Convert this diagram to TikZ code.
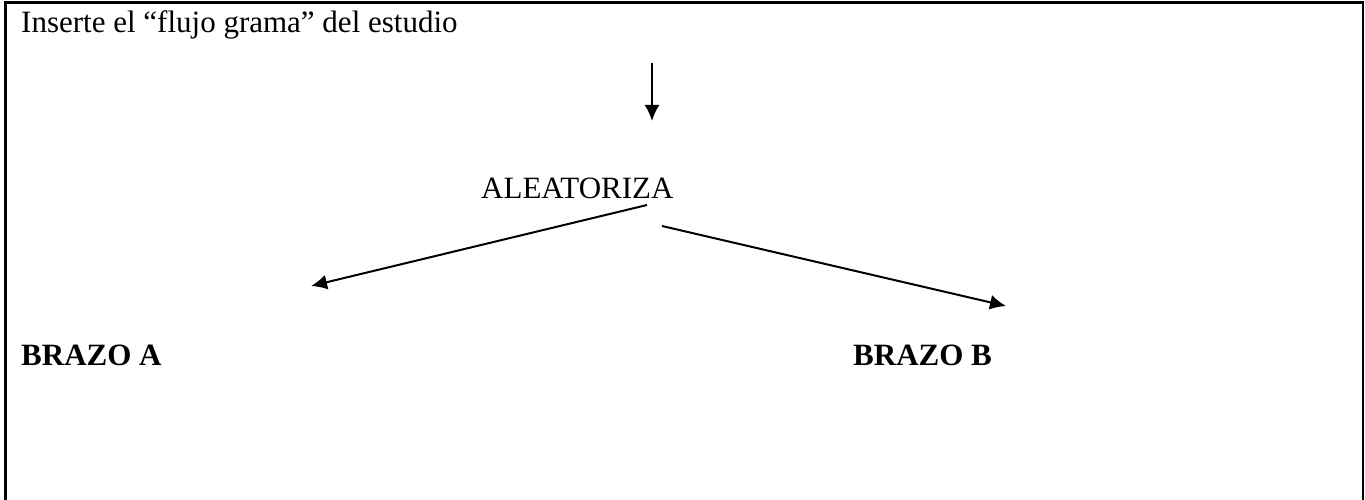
\documentclass[tikz,border=0pt]{standalone}
\usepackage{fontspec}
\setmainfont{Liberation Serif}
\usetikzlibrary{arrows.meta}
\begin{document}
\begin{tikzpicture}[x=1pt,y=-1pt,
  txt/.style={inner sep=0pt,anchor=base west,font=\fontsize{31}{36}\selectfont},
  btxt/.style={txt,font=\fontsize{31}{36}\selectfont\bfseries},
  arr/.style={line width=2pt,-{Latex[length=16pt,width=15pt]}},
  frame/.style={line width=2.5pt}]
\useasboundingbox (0,0) rectangle (1365,500);
\draw[frame] (5.5,500) -- (5.5,2.5) -- (1363,2.5) -- (1363,500);
\node[txt] (title) at (21,33) {Inserte el “flujo grama” del estudio};
\node[txt] (alea) at (481,198) {ALEATORIZA};
\node[btxt] (bA) at (21,365) {BRAZO A};
\node[btxt] (bB) at (853,365) {BRAZO B};
\coordinate (dtop) at (652,63);
\coordinate (dtip) at (652,121);
\coordinate (lstart) at (647,205);
\coordinate (ltip) at (311,286);
\coordinate (rstart) at (662,226);
\coordinate (rtip) at (1006,306);
\draw[arr] (dtop) -- (dtip);
\draw[arr] (lstart) -- (ltip);
\draw[arr] (rstart) -- (rtip);
\end{tikzpicture}
\end{document}
